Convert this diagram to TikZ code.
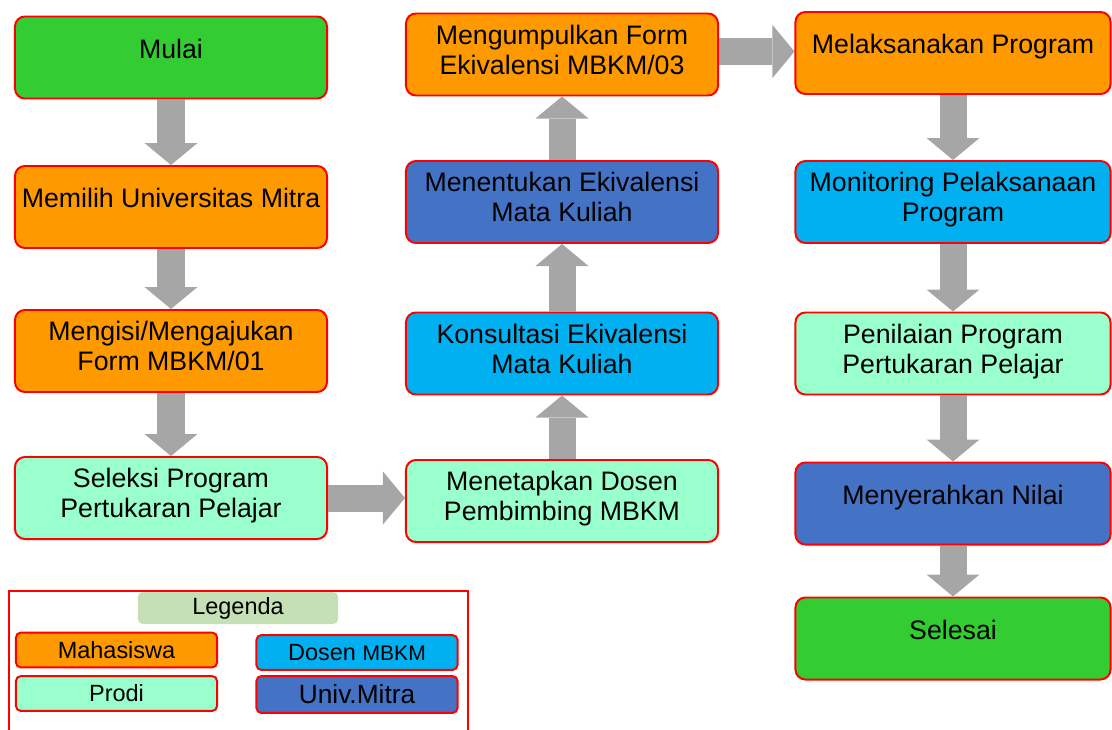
\documentclass[tikz,border=0pt]{standalone}
\usepackage{fontspec}
\setmainfont{Liberation Sans}
\usetikzlibrary{arrows.meta}

\definecolor{oranye}{HTML}{FF9900}
\definecolor{hijau}{HTML}{33CC33}
\definecolor{mint}{HTML}{99FFCC}
\definecolor{biru}{HTML}{4472C4}
\definecolor{langit}{HTML}{00B0F0}
\definecolor{abu}{HTML}{A6A6A6}
\definecolor{hijaumuda}{HTML}{C5E0B4}

\begin{document}
\begin{tikzpicture}[x=0.025cm, y=-0.025cm,
	kotak/.style={draw=red, line width=1.4pt, rounded corners=0.25cm,
		minimum width=7.8cm, minimum height=2.05cm, inner xsep=2pt,
		align=center, font=\fontsize{19}{21.3}\selectfont},
	lebar/.style={minimum width=7.875cm},
	satu/.style={text depth=0.45cm},
	dua/.style={text depth=0.25cm},
	panah/.style={color=abu, line width=0.675cm,
		-{Triangle[width=1.325cm, length=0.55cm, line width=0pt]}},
	ket/.style={draw=red, line width=1.4pt, rounded corners=0.12cm,
		minimum width=5.025cm, minimum height=0.87cm, inner sep=0pt,
		font=\fontsize{16.7}{20}\selectfont}]
	\clip (0,0) rectangle (1112,730);
	
	% kolom kiri
	\node[kotak, satu, fill=hijau]  (mulai)    at (171,57.5) {Mulai};
	\node[kotak, satu, fill=oranye] (memilih)  at (171,207)  {Memilih Universitas Mitra};
	\node[kotak, dua, fill=oranye]  (mengisi)  at (171,351)  {Mengisi/Mengajukan\\Form MBKM/01};
	\node[kotak, dua, fill=mint]    (seleksi)  at (171,498)  {Seleksi Program\\Pertukaran Pelajar};
	
	% kolom tengah
	\node[kotak, dua, fill=oranye] (kumpul)   at (562,54.5)  {Mengumpulkan Form\\Ekivalensi MBKM/03};
	\node[kotak, dua, fill=biru]   (tentukan) at (562,202)   {Menentukan Ekivalensi\\Mata Kuliah};
	\node[kotak, dua, fill=langit] (konsul)   at (562,353.5) {Konsultasi Ekivalensi\\Mata Kuliah};
	\node[kotak, dua, fill=mint]   (tetapkan) at (562,501)   {Menetapkan Dosen\\Pembimbing MBKM};
	
	% kolom kanan
	\node[kotak, lebar, satu, fill=oranye] (laksana) at (953,53)    {Melaksanakan Program};
	\node[kotak, lebar, dua, fill=langit]  (monitor) at (953,202)   {Monitoring Pelaksanaan\\Program};
	\node[kotak, lebar, dua, fill=mint]    (nilai)   at (953,353.5) {Penilaian Program\\Pertukaran Pelajar};
	\node[kotak, lebar, satu, fill=biru]   (serah)   at (953,503.5) {Menyerahkan Nilai};
	\node[kotak, lebar, satu, fill=hijau]  (selesai) at (953,638.5) {Selesai};
	
	\path [panah] (mulai) edge (memilih);
	\path [panah] (memilih) edge (mengisi);
	\path [panah] (mengisi) edge (seleksi);
	\draw [panah] (seleksi.east) -- (seleksi.east -| tetapkan.west);
	\path [panah] (tetapkan) edge (konsul);
	\path [panah] (konsul) edge (tentukan);
	\path [panah] (tentukan) edge (kumpul);
	\draw [panah] ([yshift=0.075cm]kumpul.east) -- ([yshift=0.075cm]kumpul.east -| laksana.west);
	\path [panah] (laksana) edge (monitor);
	\path [panah] (monitor) edge (nilai);
	\path [panah] (nilai) edge (serah);
	\path [panah] (serah) edge (selesai);
	
	% legenda
	\draw[red, line width=1.4pt] (9,591) rectangle (468,760);
	\node[ket, draw=none, fill=hijaumuda, minimum width=5cm, minimum height=0.8cm] (judul) at (238,608) {Legenda};
	\node[ket, fill=oranye] (mhs)   at (116.5,650)   {Mahasiswa};
	\node[ket, fill=mint]   (prodi) at (116.5,693.5) {Prodi};
	\node[ket, fill=langit] (dosen) at (357,652.5)   {Dosen {\fontsize{15}{18}\selectfont MBKM}};
	\node[ket, fill=biru, minimum height=0.92cm, font=\fontsize{18.7}{22}\selectfont] (univ) at (357,694.5) {Univ.Mitra};
\end{tikzpicture}
\end{document}
